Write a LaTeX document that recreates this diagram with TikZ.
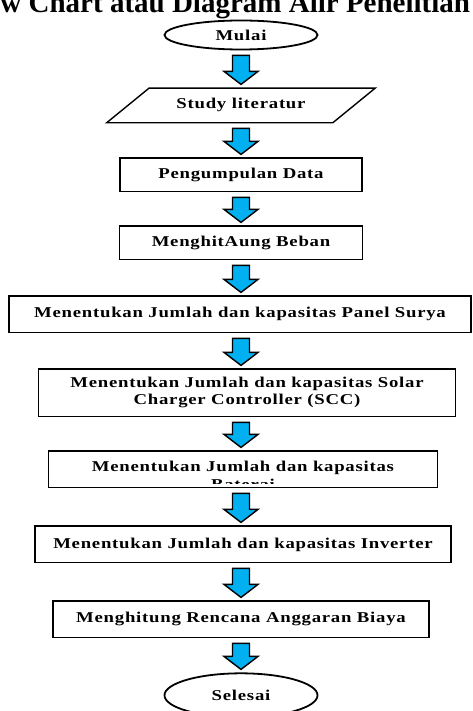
\documentclass[tikz,border=0pt]{standalone}
\usepackage{fontspec}
\setmainfont{Liberation Serif}
\newfontfamily\boxfont{Liberation Serif}[FakeStretch=1.25,LetterSpace=5]
\usetikzlibrary{positioning,shapes.geometric,calc}
\definecolor{arrowblue}{RGB}{0,176,240}
\def\ax{241pt}

\begin{document}
\begin{tikzpicture}[x=1pt, y=-1pt, node distance=34pt,
    every node/.style={font=\boxfont\bfseries\fontsize{15}{17}\selectfont, align=center},
    box/.style={draw, line width=1.4pt, minimum height=33.6pt},
    term/.style={draw, ellipse, line width=1.8pt, minimum width=153pt, minimum height=29pt},
    datain/.style={draw, trapezium, trapezium left angle=33, trapezium right angle=147,
                   trapezium stretches=true, line width=1.4pt,
                   minimum width=269pt, minimum height=34.6pt},
    flow/.style={draw=black, fill=arrowblue, line width=1.4pt, line join=miter,
      to path={let \p1=(\tikztostart.south), \p2=(\tikztotarget.north) in
        (\ax-8.5pt,\y1-5pt) -- (\ax+8.5pt,\y1-5pt) -- (\ax+8.5pt,\y2+16pt) -- (\ax+17pt,\y2+16pt)
        -- (\ax,\y2+3pt) -- (\ax-17pt,\y2+16pt) -- (\ax-8.5pt,\y2+16pt) -- cycle}}]
  \clip (0,0) rectangle (473,711);

  \node[font=\bfseries\fontsize{29}{31}\selectfont, anchor=base west, inner sep=0pt]
    (title) at (-40,13) {Flow Chart atau Diagram Alir Penelitian};

  \node[term] (mulai) at (241,35) {Mulai};
  \node[datain, below=37pt of mulai] (study) {Study literatur};
  \node[box, minimum width=242pt, below=34pt of study] (data) {Pengumpulan Data};
  \node[box, minimum width=243pt, below=33pt of data] (beban) {MenghitAung Beban};
  \node[box, minimum width=462pt, minimum height=36.6pt, below=35pt of beban, xshift=-1pt] (panel)
    {Menentukan Jumlah dan kapasitas Panel Surya};
  \node[box, minimum width=417pt, minimum height=47.6pt, below=35pt of panel, xshift=7pt] (scc)
    {Menentukan Jumlah dan kapasitas Solar\\Charger Controller (SCC)};
  \node[box, minimum width=389pt, minimum height=36.6pt, below=33pt of scc, xshift=-4pt] (bat) {};
  \begin{scope}
    \clip (bat.north west) rectangle ([yshift=5pt]bat.south east);
    \node[anchor=north, inner sep=0pt, font=\boxfont\bfseries\fontsize{15}{18}\selectfont]
      (battext) at ([yshift=-10pt]bat.north) {Menentukan Jumlah dan kapasitas\\Baterai};
  \end{scope}
  \node[box, minimum width=416pt, minimum height=36.6pt, below=37pt of bat] (inv)
    {Menentukan Jumlah dan kapasitas Inverter};
  \node[box, minimum width=376pt, minimum height=36.6pt, below=37pt of inv, xshift=-2pt] (rab)
    {Menghitung Rencana Anggaran Biaya};
  \node[term, minimum height=44pt, below=34pt of rab] (selesai) {Selesai};

  \draw[flow] (mulai) to (study);
  \draw[flow] (study) to (data);
  \draw[flow] (data) to (beban);
  \draw[flow] (beban) to (panel);
  \draw[flow] (panel) to (scc);
  \draw[flow] (scc) to (bat);
  \draw[flow] (bat) to (inv);
  \draw[flow] (inv) to (rab);
  \draw[flow] (rab) to (selesai);
\end{tikzpicture}
\end{document}
